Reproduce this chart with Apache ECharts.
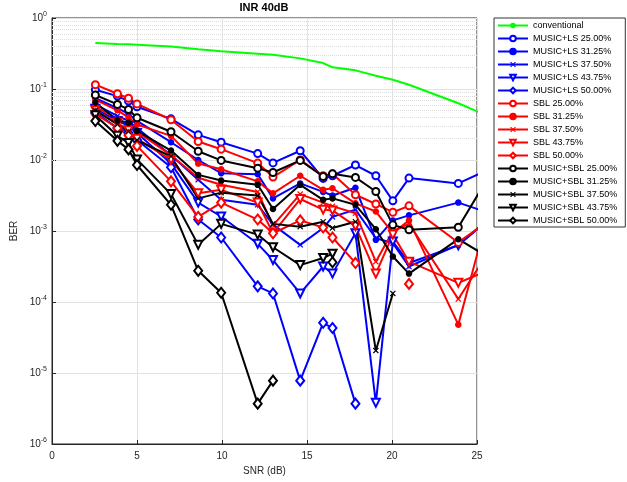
<!DOCTYPE html>
<html lang="en">
<head>
<meta charset="UTF-8">
<title>INR 40dB</title>
<script src="https://cdn.jsdelivr.net/npm/echarts@6/dist/echarts.min.js"></script>
<style>html,body{margin:0;padding:0;background:#fff}</style>
</head>
<body>
<div id="chart_ber" style="width:627px;height:482px"></div>
<script>
// SNR points (last one lies past the axis end and is clipped)
var snr = [2.55, 3.85, 4.5, 5.0, 7.0, 8.6, 9.95, 12.1, 13.0, 14.6, 15.95, 16.5, 17.85, 19.05, 20.05, 21.0, 23.9, 26.5];
var conventional = [0.444, 0.432, 0.427, 0.421, 0.398, 0.363, 0.339, 0.314, 0.304, 0.270, 0.232, 0.202, 0.183, 0.154, 0.135, 0.115, 0.063, 0.034];

var lsP25   = [0.0977, 0.0794, 0.0676, 0.0562, 0.038, 0.0226, 0.0178, 0.0123, 0.0091, 0.0135, 0.0055, 0.006, 0.0085, 0.006, 0.00266, 0.00556, 0.00468, 0.009];
var lsP3125 = [0.0741, 0.0537, 0.0447, 0.0355, 0.0178, 0.01, 0.00653, 0.0063, 0.00288, 0.00468, 0.00355, 0.00316, 0.00407, 0.00075, 0.00141, 0.00166, 0.00251, 0.00155];
var lsP375  = [0.0603, 0.0417, 0.0355, 0.0282, 0.0117, 0.00525, 0.00275, 0.00234, 0.00123, 0.000638, 0.0011, 0.00158, 0.002, 0.00079, 0.000676, 0.000316, 0.000638, 0.00206];
var lsP4375 = [0.0525, 0.0355, 0.0302, 0.024, 0.0089, 0.00251, 0.0016, 0.00066, 0.00039, 0.000132, 0.000316, 0.000251, 0.00093, 3.8e-6, 0.00071, 0.000355, 0.00063, 0.0022];
var lsP50   = [0.0468, 0.0282, 0.024, 0.0191, 0.0079, 0.00145, 0.00081, 0.000166, 0.000132, 7.8e-6, 5.1e-5, 4.3e-5, 3.7e-6, null, null, null, null, null];

var sblP25   = [0.115, 0.0857, 0.0741, 0.0617, 0.0369, 0.0182, 0.0142, 0.00904, 0.00575, 0.01, 0.006, 0.00638, 0.00324, 0.0024, 0.00184, 0.00226, 0.00069, 0.00189];
var sblP3125 = [0.0708, 0.0501, 0.0398, 0.0316, 0.0219, 0.0089, 0.0074, 0.005, 0.00339, 0.006, 0.0038, 0.004, 0.00245, 0.00188, 0.00093, 0.00141, 4.8e-5, 0.01];
var sblP375  = [0.0562, 0.038, 0.0316, 0.0251, 0.0117, 0.00562, 0.00447, 0.00355, 0.0012, 0.00331, 0.00251, 0.00224, 0.00178, 0.00037, 0.001, 0.00126, 0.00011, 0.00102];
var sblP4375 = [0.0501, 0.0331, 0.0263, 0.02, 0.01, 0.00339, 0.0038, 0.00251, 0.00093, 0.00282, 0.002, 0.00195, 0.00117, 0.000251, 0.00089, 0.00037, 0.000186, 0.00034];
var sblP50   = [0.0447, 0.0282, 0.0224, 0.0158, 0.005, 0.00158, 0.00251, 0.00145, 0.00093, 0.00141, 0.00112, 0.00081, 0.000355, null, null, 0.00018, null, null];

var msP25   = [0.0822, 0.0607, 0.0515, 0.0394, 0.025, 0.0133, 0.00986, 0.00767, 0.00667, 0.00986, 0.00586, 0.00638, 0.00568, 0.0036, 0.00122, 0.00104, 0.00113, 0.0122];
var msP3125 = [0.0646, 0.0363, 0.0335, 0.0257, 0.0136, 0.00617, 0.00513, 0.00447, 0.00204, 0.00447, 0.00275, 0.00288, 0.00234, 0.00106, 0.000437, 0.000251, 0.000767, 0.000324];
var msP375  = [0.0501, 0.0316, 0.0251, 0.0191, 0.0112, 0.00288, 0.00347, 0.00316, 0.00126, 0.00115, 0.00135, 0.0011, 0.00135, 2.07e-5, 0.000132, null, null, null];
var msP4375 = [0.0427, 0.0219, 0.0174, 0.0102, 0.00331, 0.000638, 0.00126, 0.00089, 0.00059, 0.000331, 0.000417, 0.000479, null, null, null, null, null, null];
var msP50   = [0.0355, 0.0186, 0.0141, 0.0085, 0.00234, 0.000275, 0.000135, 3.7e-6, 7.8e-6, null, null, 0.000363, null, null, null, null, null, null];

var FONT = 'Liberation Sans';
var xMark = 'path://M0,1.4L1.4,0L5,3.6L8.6,0L10,1.4L6.4,5L10,8.6L8.6,10L5,6.4L1.4,10L0,8.6L3.6,5Z';

function pts(vals) {
    var out = [];
    for (var i = 0; i < snr.length; i++) {
        out.push([snr[i], vals[i] == null ? '-' : vals[i]]);
    }
    return out;
}

function mk(name, vals, color, shape) {
    var s = {
        name: name,
        type: 'line',
        z: 3,
        data: pts(vals),
        color: color,
        lineStyle: {color: color, width: 2},
        itemStyle: {color: color, borderColor: color, borderWidth: 1.5},
        symbol: 'emptyCircle',
        symbolSize: 7,
        animation: false
    };
    if (shape == 'dot') { s.symbol = 'circle'; s.symbolSize = 5; }
    if (shape == 'x') { s.symbol = xMark; s.symbolSize = 6; s.itemStyle.borderWidth = 0; }
    if (shape == 'tri') { s.symbol = 'emptyTriangle'; s.symbolSize = 8; s.symbolRotate = 180; }
    if (shape == 'dia') { s.symbol = 'emptyDiamond'; s.symbolSize = [8, 10]; }
    return s;
}

// dotted minor grid at 2..9 of each decade
var minor = [];
for (var d = -6; d < 0; d++) {
    for (var k = 2; k <= 9; k++) minor.push({yAxis: k * Math.pow(10, d)});
}

var series = [{
    name: 'conventional',
    type: 'line',
    z: 1,
    data: pts(conventional),
    color: '#00ff00',
    lineStyle: {color: '#00ff00', width: 2},
    symbol: 'none',
    animation: false,
    markLine: {
        silent: true,
        z: 1,
        symbol: ['none', 'none'],
        label: {show: false},
        animation: false,
        lineStyle: {color: '#dedede', type: 'dotted', width: 1},
        data: minor
    }
}];
series.push(mk('MUSIC+LS 25.00%', lsP25, '#0000ff', 'o'));
series.push(mk('MUSIC+LS 31.25%', lsP3125, '#0000ff', 'dot'));
series.push(mk('MUSIC+LS 37.50%', lsP375, '#0000ff', 'x'));
series.push(mk('MUSIC+LS 43.75%', lsP4375, '#0000ff', 'tri'));
series.push(mk('MUSIC+LS 50.00%', lsP50, '#0000ff', 'dia'));
series.push(mk('SBL 25.00%', sblP25, '#ff0000', 'o'));
series.push(mk('SBL 31.25%', sblP3125, '#ff0000', 'dot'));
series.push(mk('SBL 37.50%', sblP375, '#ff0000', 'x'));
series.push(mk('SBL 43.75%', sblP4375, '#ff0000', 'tri'));
series.push(mk('SBL 50.00%', sblP50, '#ff0000', 'dia'));
series.push(mk('MUSIC+SBL 25.00%', msP25, '#000000', 'o'));
series.push(mk('MUSIC+SBL 31.25%', msP3125, '#000000', 'dot'));
series.push(mk('MUSIC+SBL 37.50%', msP375, '#000000', 'x'));
series.push(mk('MUSIC+SBL 43.75%', msP4375, '#000000', 'tri'));
series.push(mk('MUSIC+SBL 50.00%', msP50, '#000000', 'dia'));

var option = {
    backgroundColor: '#fff',
    textStyle: {fontFamily: FONT},
    title: {
        text: 'INR 40dB',
        left: 264,
        top: 2,
        textAlign: 'center',
        padding: 0,
        textStyle: {fontFamily: FONT, fontSize: 11, fontWeight: 'bold', color: '#000'}
    },
    legend: {
        orient: 'vertical',
        left: 494,
        top: 18,
        padding: [3, 8, 2, 3],
        itemWidth: 30,
        itemHeight: 7,
        itemGap: 4,
        backgroundColor: '#fff',
        borderColor: '#333',
        borderWidth: 1,
        borderRadius: 0,
        textStyle: {fontFamily: FONT, fontSize: 9, lineHeight: 9, color: '#000'},
        data: series.map(function (s) { return s.name; })
    },
    grid: {
        left: 52, top: 18, width: 425, height: 426,
        show: true, borderColor: '#262626', borderWidth: 1, backgroundColor: '#fff'
    },
    xAxis: {
        type: 'value',
        min: 0, max: 25, interval: 5,
        name: 'SNR (dB)',
        nameLocation: 'middle',
        nameGap: 19,
        nameTextStyle: {fontFamily: FONT, fontSize: 10, color: '#262626'},
        axisLine: {show: true, lineStyle: {color: '#262626'}},
        axisTick: {show: true, inside: true, length: 4, lineStyle: {color: '#262626'}},
        axisLabel: {fontFamily: FONT, fontSize: 10, color: '#262626', margin: 7},
        splitLine: {show: true, lineStyle: {color: '#e2e2e2'}}
    },
    yAxis: {
        type: 'log',
        logBase: 10,
        min: 1e-6, max: 1,
        name: 'BER',
        nameLocation: 'middle',
        nameGap: 27,
        nameTextStyle: {fontFamily: FONT, fontSize: 10, color: '#262626'},
        axisLine: {show: true, lineStyle: {color: '#262626'}},
        axisTick: {show: true, inside: true, length: 4, lineStyle: {color: '#262626'}},
        splitLine: {show: true, lineStyle: {color: '#e2e2e2'}},
        axisLabel: {
            margin: 5,
            formatter: function (v) {
                var e = Math.round(Math.log10(v));
                return '{b|10}{s|' + e + '}';
            },
            rich: {
                b: {fontFamily: FONT, fontSize: 10, color: '#262626'},
                s: {fontFamily: FONT, fontSize: 7, color: '#262626', padding: [0, 0, 8, 0]}
            }
        }
    },
    series: series
};

var chart_ber = echarts.init(document.getElementById('chart_ber'));
chart_ber.setOption(option);
</script>
</body>
</html>
